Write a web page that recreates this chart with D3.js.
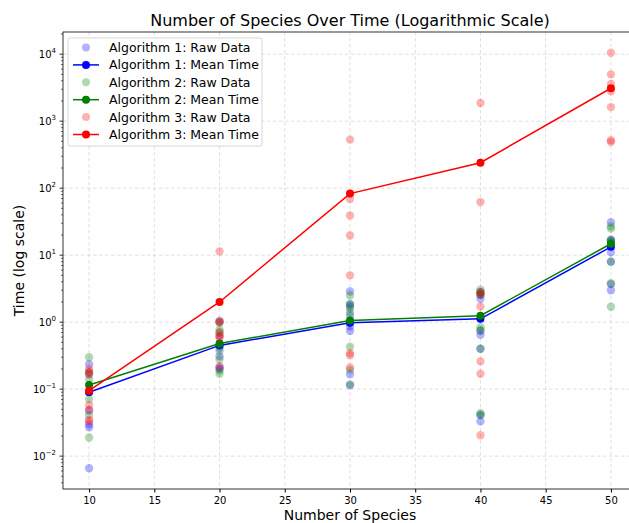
<!DOCTYPE html>
<html>
<head>
<meta charset="utf-8">
<script src="https://cdn.jsdelivr.net/npm/d3@7"></script>
<style>
  body { margin: 0; background: #fff; }
  svg { display: block; font-family: "DejaVu Sans", sans-serif; }
</style>
</head>
<body>
<div id="container"></div>
<script>
// x values (number of species)
var speciesCounts = [10, 20, 30, 40, 50];
var seriesNames = ['Algorithm 1', 'Algorithm 2', 'Algorithm 3'];
var seriesColors = ['blue', 'green', 'red'];

// raw timings, one list per species count
var alg1Raw = [
	[0.235, 0.17, 0.048, 0.030, 0.027, 0.0066],
	[1.02, 0.41, 0.31, 0.21, 0.20, 0.62],
	[2.87, 1.86, 1.71, 1.26, 0.86, 0.74, 0.167, 0.114],
	[2.8, 2.56, 2.23, 0.75, 0.65, 0.40, 0.041, 0.033],
	[31, 17, 16, 11, 8, 3.7, 3.0]
];
var alg2Raw = [
	[0.30, 0.18, 0.14, 0.071, 0.041, 0.019],
	[1.0, 0.77, 0.70, 0.37, 0.28, 0.19, 0.17],
	[2.5, 1.86, 1.6, 1.39, 0.43, 0.194, 0.118],
	[3.04, 2.8, 2.56, 0.84, 0.75, 0.40, 0.044, 0.041],
	[27, 25, 17, 16, 8, 3.8, 1.7]
];
var alg3Raw = [
	[0.20, 0.18, 0.165, 0.058, 0.049, 0.035, 0.033],
	[11.4, 1.05, 0.98, 0.70, 0.63, 0.58, 0.22],
	[530, 69, 39, 19.7, 5.0, 0.345, 0.32, 0.21],
	[1870, 62, 2.8, 2.6, 1.71, 0.26, 0.17, 0.0205],
	[10500, 5000, 3600, 2800, 1620, 520, 490]
];

// mean timings
var alg1Mean = [0.09, 0.45, 0.98, 1.12, 13.3];
var alg2Mean = [0.115, 0.48, 1.06, 1.25, 14.8];
var alg3Mean = [0.095, 2.0, 83, 240, 3100];

var xTicks = [10, 15, 20, 25, 30, 35, 40, 45, 50];
var yTicks = [-2, -1, 0, 1, 2, 3, 4];

var width = 629;
var height = 523;
var plotLeft = 63, plotRight = 637, plotTop = 32, plotBottom = 489;

var rawSets = [alg1Raw, alg2Raw, alg3Raw];
var meanSets = [alg1Mean, alg2Mean, alg3Mean];

var svg = d3.select('#container')
	.append('svg')
	.attr('width', width)
	.attr('height', height);

// log extent with matplotlib-like 5% margins
var allVals = [];
rawSets.forEach(function(s) { s.forEach(function(col) { allVals = allVals.concat(col); }); });
meanSets.forEach(function(s) { allVals = allVals.concat(s); });
var lo = Math.log10(d3.min(allVals));
var hi = Math.log10(d3.max(allVals));
var pad = (hi - lo) * 0.05;

var x = d3.scaleLinear().domain([8, 52]).range([plotLeft, plotRight]);
var y = d3.scaleLog()
	.domain([Math.pow(10, lo - pad), Math.pow(10, hi + pad)])
	.range([plotBottom, plotTop]);

// grid
var grid = svg.append('g')
	.attr('stroke', '#b0b0b0')
	.attr('stroke-opacity', 0.5)
	.attr('stroke-width', 0.8)
	.attr('stroke-dasharray', '3.5,2.5');
grid.selectAll('.gx')
	.data(xTicks)
	.enter()
	.append('line')
	.attr('x1', (d) => x(d)).attr('x2', (d) => x(d))
	.attr('y1', plotTop).attr('y2', plotBottom);
grid.selectAll('.gy')
	.data(yTicks)
	.enter()
	.append('line')
	.attr('x1', plotLeft).attr('x2', plotRight)
	.attr('y1', (d) => y(Math.pow(10, d))).attr('y2', (d) => y(Math.pow(10, d)));

// series
seriesNames.forEach(function(name, i) {
	var color = seriesColors[i];
	var pts = [];
	rawSets[i].forEach(function(col, j) {
		col.forEach(function(v) { pts.push({n: speciesCounts[j], v: v}); });
	});
	svg.append('g')
		.selectAll('circle')
		.data(pts)
		.enter()
		.append('circle')
		.attr('cx', (d) => x(d.n))
		.attr('cy', (d) => y(d.v))
		.attr('r', 4.2)
		.attr('fill', color)
		.attr('fill-opacity', 0.3);

	var meanPts = meanSets[i].map(function(v, j) { return {n: speciesCounts[j], v: v}; });
	var line = d3.line()
		.x((d) => x(d.n))
		.y((d) => y(d.v));
	svg.append('path')
		.datum(meanPts)
		.attr('d', line)
		.attr('fill', 'none')
		.attr('stroke', color)
		.attr('stroke-width', 1.5);
	svg.append('g')
		.selectAll('circle')
		.data(meanPts)
		.enter()
		.append('circle')
		.attr('cx', (d) => x(d.n))
		.attr('cy', (d) => y(d.v))
		.attr('r', 4)
		.attr('fill', color);
});

// spines
svg.append('rect')
	.attr('x', plotLeft).attr('y', plotTop)
	.attr('width', plotRight - plotLeft).attr('height', plotBottom - plotTop)
	.attr('fill', 'none')
	.attr('stroke', '#000')
	.attr('stroke-width', 0.8);

// x axis
var xAxis = svg.append('g').attr('transform', 'translate(0,' + plotBottom + ')')
	.call(d3.axisBottom(x).tickValues(xTicks).tickSize(3.5).tickPadding(4).tickFormat(d3.format('d')));
xAxis.select('.domain').remove();
xAxis.selectAll('text').attr('font-size', 10).attr('fill', '#000').attr('font-family', 'DejaVu Sans');

// y axis: major + minor ticks
var minorTicks = [];
for (var k = -3; k <= 4; k++) {
	for (var m = 2; m <= 9; m++) {
		var v = m * Math.pow(10, k);
		if (v >= y.domain()[0] && v <= y.domain()[1]) minorTicks.push(v);
	}
}
svg.append('g').selectAll('line')
	.data(minorTicks)
	.enter()
	.append('line')
	.attr('x1', plotLeft - 2).attr('x2', plotLeft)
	.attr('y1', (d) => y(d)).attr('y2', (d) => y(d))
	.attr('stroke', '#000').attr('stroke-width', 0.6);
svg.append('g').selectAll('line')
	.data(yTicks)
	.enter()
	.append('line')
	.attr('x1', plotLeft - 3.5).attr('x2', plotLeft)
	.attr('y1', (d) => y(Math.pow(10, d))).attr('y2', (d) => y(Math.pow(10, d)))
	.attr('stroke', '#000').attr('stroke-width', 0.8);
var yLabels = svg.append('g').selectAll('text')
	.data(yTicks)
	.enter()
	.append('text')
	.attr('x', plotLeft - 7)
	.attr('y', (d) => y(Math.pow(10, d)) + 4)
	.attr('text-anchor', 'end')
	.attr('font-size', 10);
yLabels.append('tspan').text('10');
yLabels.append('tspan')
	.attr('dy', -5)
	.attr('font-size', 7)
	.text((d) => d < 0 ? '\u2212' + Math.abs(d) : d);

// titles
svg.append('text')
	.attr('x', (plotLeft + plotRight) / 2)
	.attr('y', 26)
	.attr('text-anchor', 'middle')
	.attr('font-size', 16)
	.text('Number of Species Over Time (Logarithmic Scale)');
svg.append('text')
	.attr('x', (plotLeft + plotRight) / 2)
	.attr('y', 520)
	.attr('text-anchor', 'middle')
	.attr('font-size', 14)
	.text('Number of Species');
svg.append('text')
	.attr('transform', 'translate(24,' + ((plotTop + plotBottom) / 2) + ') rotate(-90)')
	.attr('text-anchor', 'middle')
	.attr('font-size', 14)
	.text('Time (log scale)');

// legend
var legendRows = [];
seriesNames.forEach(function(name, i) {
	legendRows.push({label: name + ': Raw Data', color: seriesColors[i], raw: true});
	legendRows.push({label: name + ': Mean Time', color: seriesColors[i], raw: false});
});
var legend = svg.append('g');
legend.append('rect')
	.attr('x', 68).attr('y', 38)
	.attr('width', 194).attr('height', 108)
	.attr('rx', 2)
	.attr('fill', '#fff').attr('fill-opacity', 0.8)
	.attr('stroke', '#ccc').attr('stroke-width', 0.8);
var rows = legend.selectAll('g.row')
	.data(legendRows)
	.enter()
	.append('g')
	.attr('transform', (d, i) => 'translate(0,' + (47.5 + i * 17.4) + ')');
rows.filter((d) => !d.raw).append('line')
	.attr('x1', 73).attr('x2', 99)
	.attr('stroke', (d) => d.color).attr('stroke-width', 1.5);
rows.append('circle')
	.attr('cx', 86).attr('r', 4)
	.attr('fill', (d) => d.color)
	.attr('fill-opacity', (d) => d.raw ? 0.3 : 1);
rows.append('text')
	.attr('x', 109).attr('y', 4.5)
	.attr('font-size', 12.5)
	.text((d) => d.label);
</script>
</body>
</html>
